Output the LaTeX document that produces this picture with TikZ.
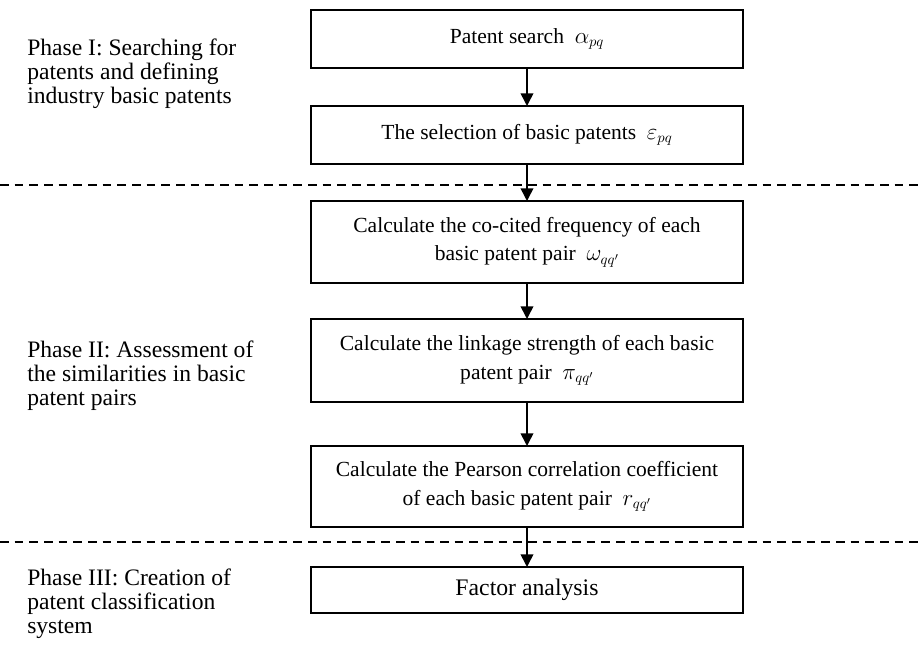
\documentclass[tikz,border=0pt]{standalone}
\usepackage{fontspec}
\setmainfont{Liberation Serif}
\usetikzlibrary{arrows.meta,positioning}
\tikzset{
	stepbox/.style={draw, line width=1.3pt, align=center, minimum width=324pt,
		inner sep=2pt, outer sep=0pt, font=\fontsize{16.15pt}{21.5pt}\selectfont},
	arrow/.style={-{Triangle[length=9.5pt,width=9.5pt]}, line width=1.2pt},
	phaselabel/.style={anchor=north west, align=left, inner sep=0pt,
		font=\fontsize{17.7pt}{18pt}\selectfont},
	phaseline/.style={dash pattern=on 6.5pt off 4.5pt, line width=1.1pt}
}
\begin{document}
\begin{tikzpicture}[x=0.75pt,y=-0.75pt]
	\useasboundingbox (0,0) rectangle (924,646);
	
	%% -- Phase I boxes
	\node[stepbox, minimum height=43.5pt] (search) at (527,39)
	{Patent search\enspace $\alpha_{pq}$};
	
	\node[stepbox, minimum height=43.5pt, below=28.5pt of search] (select)
	{The selection of basic patents\enspace $\varepsilon_{pq}$};
	
	%% -- Phase II boxes
	\node[stepbox, minimum height=61.5pt, below=27.75pt of select] (cocite)
	{Calculate the co-cited frequency of each\\
		basic patent pair\enspace $\omega_{qq'}$};
	
	\node[stepbox, minimum height=62.25pt, below=27pt of cocite] (linkage)
	{Calculate the linkage strength of each basic\\
		patent pair\enspace $\pi_{qq'}$};
	
	\node[stepbox, minimum height=60.75pt, below=33pt of linkage] (pearson)
	{Calculate the Pearson correlation coefficient\\
		of each basic patent pair\enspace $r_{qq'}$};
	
	%% -- Phase III box
	\node[stepbox, minimum height=34.5pt, below=30pt of pearson,
	font=\fontsize{17.8pt}{20pt}\selectfont] (factor)
	{Factor analysis};
	
	%% -- Flow
	\draw[arrow] (search.south) -- (select.north);
	\draw[arrow] (select.south) -- (cocite.north);
	\draw[arrow] (cocite.south) -- (linkage.north);
	\draw[arrow] (linkage.south) -- (pearson.north);
	\draw[arrow] (pearson.south) -- (factor.north);
	
	%% -- Phase separators
	\draw[phaseline] (0,185) -- (924,185);
	\draw[phaseline] (0,542) -- (924,542);
	
	%% -- Phase labels
	\node[phaselabel] (phase1) at (27,39)
	{Phase I: Searching for\\patents and defining\\industry basic patents};
	
	\node[phaselabel] (phase2) at (27,341)
	{Phase II: Assessment of\\the similarities in basic\\patent pairs};
	
	\node[phaselabel] (phase3) at (27,569)
	{Phase III: Creation of\\patent classification\\system};
	
\end{tikzpicture}
\end{document}
